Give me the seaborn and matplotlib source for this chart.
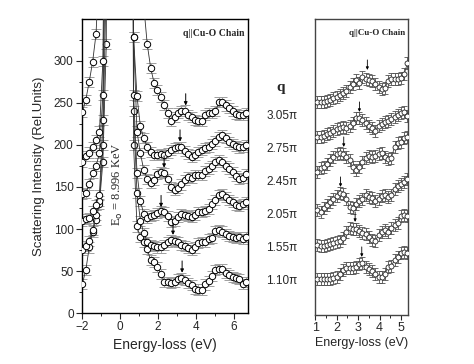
import numpy as np
import pandas as pd
import matplotlib
matplotlib.use("Agg")
import matplotlib.pyplot as plt
import seaborn as sns

# ---------------- data (left panel: full spectra incl. elastic line) ----------------
q_labels = ["1.10π", "1.55π", "2.05π", "2.45π", "2.75π", "3.05π"]

energy_left = [-1.98, -1.80, -1.62, -1.44, -1.26, -1.08, -0.90, -0.72,
               -0.54, -0.36, -0.18, 0.00, 0.18, 0.36, 0.54,
               0.72, 0.90, 1.08, 1.26, 1.44, 1.62, 1.80, 1.98, 2.16, 2.34,
               2.52, 2.70, 2.88, 3.06, 3.24, 3.42, 3.60, 3.78, 3.96, 4.14,
               4.32, 4.50, 4.68, 4.86, 5.04, 5.22, 5.40, 5.58, 5.76, 5.94,
               6.12, 6.30, 6.48, 6.66]

left_q110 = [35, 51, 78, 97, 111, 130, 180, 320,
             1500, 3000, 5000, 6000, 5000, 3000, 1500,
             200, 103, 90, 84, 76, 63, 61, 55, 47, 37,
             37, 36, 37, 41, 42, 39, 36, 33, 29, 28,
             28, 34, 38, 44, 51, 52, 52, 48, 45, 43,
             42, 40, 35, 37]
left_q155 = [75, 80, 86, 99, 117, 133, 200, 400,
             1500, 3000, 5000, 6000, 5000, 3000, 1500,
             240, 143, 110, 95, 85, 81, 80, 78, 78, 81,
             85, 87, 86, 84, 81, 80, 77, 75, 78, 83,
             85, 85, 88, 89, 98, 99, 97, 94, 92, 91,
             89, 90, 88, 90]
left_q205 = [109, 112, 113, 121, 129, 140, 230, 500,
             1500, 3000, 5000, 6000, 5000, 3000, 1500,
             260, 167, 133, 118, 113, 115, 117, 119, 121, 120,
             116, 108, 110, 114, 118, 117, 116, 114, 117, 120,
             120, 121, 124, 130, 134, 141, 142, 138, 134, 132,
             129, 127, 130, 132]
left_q245 = [142, 143, 153, 167, 175, 190, 260, 600,
             1500, 3000, 5000, 6000, 5000, 3000, 1500,
             328, 216, 190, 170, 160, 155, 158, 165, 168, 167,
             160, 150, 147, 149, 153, 158, 162, 161, 164, 164,
             164, 169, 172, 175, 180, 182, 180, 175, 172, 168,
             163, 160, 161, 165]
left_q275 = [180, 187, 191, 198, 206, 216, 300, 700,
             1500, 3000, 5000, 6000, 5000, 3000, 1500,
             328, 258, 222, 208, 198, 192, 188, 188, 189, 188,
             190, 194, 196, 197, 197, 193, 189, 186, 188, 192,
             194, 196, 198, 201, 205, 210, 212, 208, 204, 201,
             199, 197, 198, 200]
left_q305 = [239, 254, 275, 299, 332, 420, 800, 1500,
             2500, 4000, 6000, 7000, 6000, 4000, 2500,
             1500, 800, 500, 365, 320, 292, 274, 265, 257, 248,
             238, 228, 233, 238, 240, 241, 236, 233, 230, 228,
             229, 236, 238, 238, 240, 251, 251, 247, 244, 240,
             237, 236, 236, 238]

arrow_left_energy = [3.28, 2.80, 2.17, 2.33, 3.17, 3.47]
arrow_left_value = [42, 87, 120, 167, 198, 241]

# ---------------- data (right panel: zoom on 1-5 eV) ----------------
energy_right = [1.10, 1.25, 1.40, 1.55, 1.70, 1.85, 2.00, 2.15, 2.30, 2.45,
                2.60, 2.75, 2.90, 3.05, 3.20, 3.35, 3.50, 3.65, 3.80, 3.95,
                4.10, 4.25, 4.40, 4.55, 4.70, 4.85, 5.00, 5.15, 5.30]

right_q110 = [36, 36, 36, 36, 36, 37, 38, 41, 45, 47,
              47, 47, 48, 51, 52, 48, 46, 44, 41, 38,
              38, 41, 48, 49, 55, 58, 62, 63, 62]
right_q155 = [70, 69, 69, 70, 71, 72, 73, 74, 77, 83,
              87, 86, 86, 84, 82, 81, 78, 75, 74, 80,
              83, 85, 83, 87, 90, 92, 99, 100, 99]
right_q205 = [105, 103, 107, 110, 113, 116, 119, 122, 121, 116,
              108, 107, 111, 114, 116, 120, 118, 117, 114, 116,
              119, 120, 118, 120, 126, 129, 131, 133, 136]
right_q245 = [143, 147, 148, 151, 155, 158, 161, 162, 161, 158,
              155, 148, 145, 148, 153, 157, 159, 158, 159, 161,
              162, 158, 156, 157, 168, 172, 173, 177, 178]
right_q275 = [178, 178, 179, 181, 182, 184, 186, 187, 188, 187,
              189, 192, 197, 197, 195, 192, 189, 187, 184, 189,
              191, 193, 194, 196, 198, 200, 202, 203, 199]
right_q305 = [213, 213, 213, 214, 215, 217, 218, 220, 222, 224,
              228, 231, 235, 232, 238, 236, 235, 234, 231, 228,
              226, 227, 234, 236, 236, 236, 237, 241, 252]

arrow_right_energy = [3.17, 2.86, 2.18, 2.33, 3.06, 3.43]
arrow_right_value = [52, 87, 122, 162, 197, 239]

left_curves = [left_q110, left_q155, left_q205, left_q245, left_q275, left_q305]
right_curves = [right_q110, right_q155, right_q205, right_q245, right_q275, right_q305]

df_left = pd.DataFrame({
    "energy": np.tile(energy_left, len(q_labels)),
    "intensity": np.concatenate(left_curves),
    "q": np.repeat(q_labels, len(energy_left)),
})
df_right = pd.DataFrame({
    "energy": np.tile(energy_right, len(q_labels)),
    "intensity": np.concatenate(right_curves),
    "q": np.repeat(q_labels, len(energy_right)),
})

# ---------------- style ----------------
sns.set_style("ticks")
plt.rcParams["font.family"] = ["Liberation Sans", "DejaVu Sans"]
plt.rcParams["axes.linewidth"] = 1.0

fig = plt.figure(figsize=(4.74, 3.64), dpi=100)
axL = fig.add_axes([0.173, 0.140, 0.350, 0.808])
axR = fig.add_axes([0.665, 0.135, 0.196, 0.813])

# ---------------- left panel ----------------
for q in q_labels:
    d = df_left[df_left["q"] == q]
    axL.errorbar(d["energy"], d["intensity"], yerr=6, fmt="none",
                 ecolor="#a0a0a0", elinewidth=0.6, capsize=3.5, capthick=0.7, zorder=1)
    sns.lineplot(data=d, x="energy", y="intensity", ax=axL, color="#303030",
                 linewidth=0.6, marker="o", markersize=4.6, markerfacecolor="white",
                 markeredgecolor="black", markeredgewidth=0.7, zorder=3,
                 estimator=None, legend=False)

for e, v in zip(arrow_left_energy, arrow_left_value):
    axL.annotate("", xy=(e, v + 6), xytext=(e, v + 20),
                 arrowprops=dict(arrowstyle="-|>", color="black", lw=0.7,
                                 mutation_scale=5, shrinkA=0, shrinkB=0))

axL.set_xlim(-2.0, 6.75)
axL.set_ylim(0, 350)
axL.set_xticks([-2, 0, 2, 4, 6])
axL.set_xticks([-1, 1, 3, 5], minor=True)
axL.set_yticks([0, 50, 100, 150, 200, 250, 300])
axL.set_yticks(np.arange(25, 350, 50), minor=True)
axL.tick_params(which="major", direction="out", length=4, width=0.8, labelsize=8.5, pad=2)
axL.tick_params(which="minor", direction="out", length=2, width=0.7)
axL.set_xlabel("Energy-loss (eV)", fontsize=10, labelpad=3)
axL.set_ylabel("Scattering Intensity (Rel.Units)", fontsize=9.5, labelpad=6)
for s in axL.spines.values():
    s.set_visible(True)
    s.set_color("black")

axL.text(0.98, 0.965, "q||Cu-O Chain", transform=axL.transAxes, ha="right", va="top",
         fontsize=7, fontweight="bold", family=["Liberation Serif", "DejaVu Serif"])
axL.text(-0.1, 153, "E$_\\mathrm{o}$ = 8.996 KeV", rotation=90, ha="center", va="center",
         fontsize=9, family=["Liberation Serif", "DejaVu Serif"])

# ---------------- right panel ----------------
for q in q_labels:
    d = df_right[df_right["q"] == q]
    axR.errorbar(d["energy"], d["intensity"], yerr=6, fmt="none",
                 ecolor="#505050", elinewidth=0.6, capsize=2.5, capthick=0.6, zorder=1)
    sns.lineplot(data=d, x="energy", y="intensity", ax=axR, color="#404040",
                 linewidth=0.6, marker="o", markersize=3.6, markerfacecolor="white",
                 markeredgecolor="#222222", markeredgewidth=0.6, zorder=3,
                 estimator=None, legend=False)

for e, v in zip(arrow_right_energy, arrow_right_value):
    axR.annotate("", xy=(e, v + 6), xytext=(e, v + 16),
                 arrowprops=dict(arrowstyle="-|>", color="black", lw=0.6,
                                 mutation_scale=4, shrinkA=0, shrinkB=0))

axR.set_xlim(1.0, 5.33)
axR.set_ylim(0, 296)
axR.set_xticks([1, 2, 3, 4, 5])
axR.set_xticks([1.5, 2.5, 3.5, 4.5], minor=True)
axR.set_yticks([])
axR.tick_params(which="major", direction="out", length=3.5, width=0.8, labelsize=9, pad=2)
axR.tick_params(which="minor", direction="out", length=2, width=0.7)
axR.set_xlabel("Energy-loss (eV)", fontsize=9, labelpad=2)
axR.set_ylabel("")
for s in axR.spines.values():
    s.set_visible(True)
    s.set_color("#444444")

axR.text(0.97, 0.965, "q||Cu-O Chain", transform=axR.transAxes, ha="right", va="top",
         fontsize=6.5, fontweight="bold", family=["Liberation Serif", "DejaVu Serif"])

# ---------------- q labels between panels ----------------
fig.text(281 / 474, 1 - 87 / 364, "q", ha="center", va="center", fontsize=11,
         fontweight="bold", family=["Liberation Serif", "DejaVu Serif"])
label_y_px = [281, 248, 215, 182, 149, 116]
for lab, ypx in zip(q_labels, label_y_px):
    fig.text(282 / 474, 1 - ypx / 364, lab, ha="center", va="center", fontsize=8.5)

fig.savefig("out.png", dpi=100)
